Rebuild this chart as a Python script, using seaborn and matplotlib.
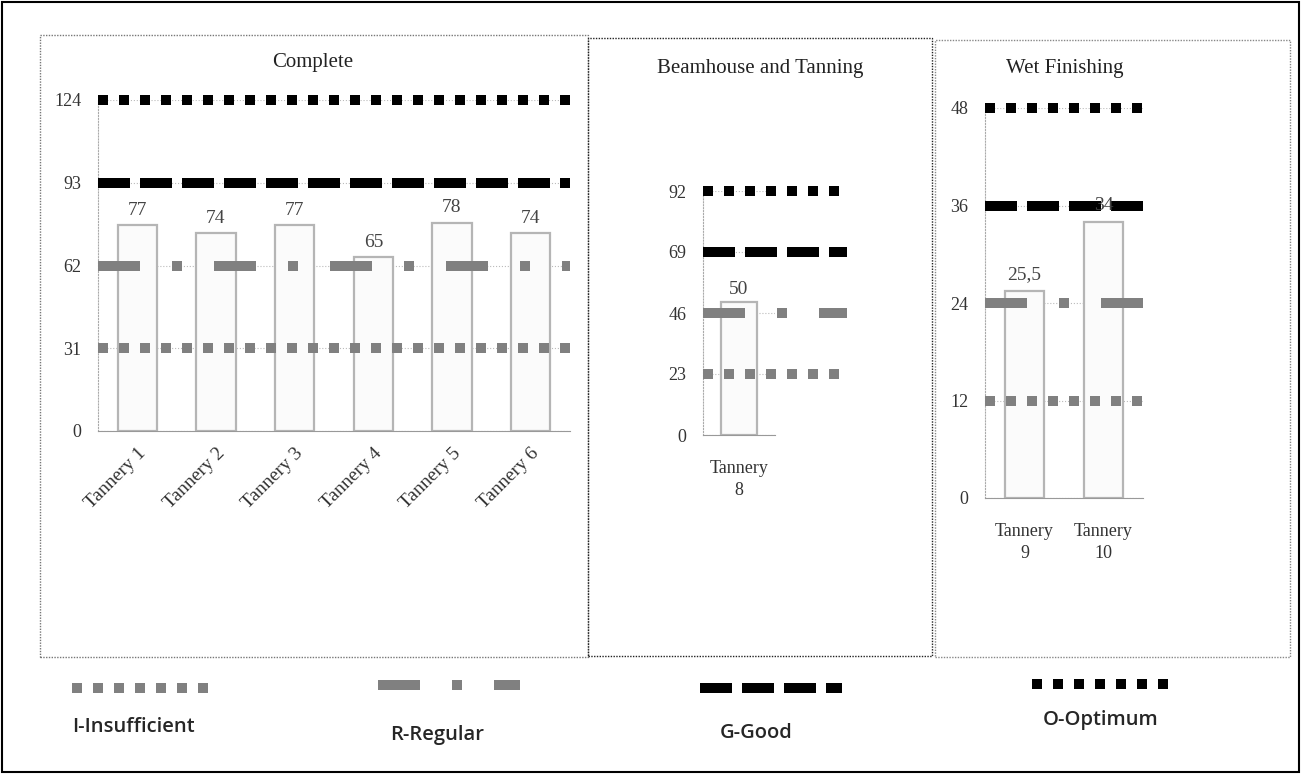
import matplotlib
matplotlib.use("Agg")
import matplotlib.pyplot as plt
from matplotlib.lines import Line2D
from matplotlib.patches import Rectangle
import pandas as pd
import seaborn as sns

# datos de cada panel
complete_names = ['Tannery 1', 'Tannery 2', 'Tannery 3', 'Tannery 4', 'Tannery 5', 'Tannery 6']
complete_vals = [77, 74, 77, 65, 78, 74]
complete_levels = [31, 62, 93, 124]

beam_names = ['Tannery\n8']
beam_vals = [50]
beam_levels = [23, 46, 69, 92]

wet_names = ['Tannery\n9', 'Tannery\n10']
wet_vals = [25.5, 34]
wet_levels = [12, 24, 36, 48]

level_names = ['I-Insufficient', 'R-Regular', 'G-Good', 'O-Optimum']

sns.set_style("white")
plt.rcParams['font.family'] = ['Liberation Serif', 'DejaVu Serif']

# estilos de las lineas de nivel (I, R, G, O), trazo de ~10 px
LW = 7.2
estilos = [
    dict(color='#808080', dashes=(1.0, 1.1)),
    dict(color='#808080', dashes=(4.2, 3.2, 1.0, 3.2)),
    dict(color='#000000', dashes=(3.2, 1.0)),
    dict(color='#000000', dashes=(1.0, 1.1)),
]

fig = plt.figure(figsize=(13.01, 7.74), dpi=100)

def fx(px):
    return px / 1301.0

def fy(py):
    return 1 - py / 774.0

# marco exterior y recuadros de los paneles
fig.patches.append(Rectangle((fx(2), fy(772)), fx(1297), 770 / 774.0, transform=fig.transFigure,
                             fill=False, edgecolor='black', linewidth=1.5))
for (x0, y0, x1, y1, col) in [(40, 35, 588, 657, '#777777'), (588, 38, 932, 656, '#222222'),
                              (935, 40, 1290, 657, '#888888')]:
    fig.patches.append(Rectangle((fx(x0), fy(y1)), fx(x1 - x0), (y1 - y0) / 774.0,
                                 transform=fig.transFigure, fill=False, edgecolor=col,
                                 linewidth=1, linestyle=(0, (1, 1))))


def panel(rect, names, vals, levels, title, title_xy, xmax_line, rot, fmt):
    ax = fig.add_axes(rect)
    df = pd.DataFrame({'tannery': names, 'score': vals})
    sns.barplot(data=df, x='tannery', y='score', ax=ax, color='#fbfbfb', saturation=1,
                width=0.5, edgecolor='#b5b5b5', linewidth=1.6, zorder=2)
    ax.set_ylim(0, levels[-1])
    ax.set_xlim(-0.5, len(names) - 0.5)
    ax.set_yticks([0] + levels)
    ax.set_yticklabels([str(v) for v in [0] + levels], fontsize=13, color='#333333')
    ax.yaxis.set_tick_params(pad=12, length=0)
    ax.grid(axis='y', color='#bbbbbb', linestyle=':', linewidth=0.8, zorder=0)
    ax.set_xlabel('')
    ax.set_ylabel('')
    for s in ['top', 'right']:
        ax.spines[s].set_visible(False)
    ax.spines['left'].set_color('#aaaaaa')
    ax.spines['left'].set_linestyle(':')
    ax.spines['bottom'].set_color('#999999')
    ax.set_xticks(range(len(names)))
    if rot:
        ax.tick_params(axis='x', length=0, pad=10)
        ax.set_xticklabels(names, rotation=45, ha='right', rotation_mode='anchor',
                           fontsize=14, color='#333333')
    else:
        ax.tick_params(axis='x', length=0, pad=18)
        ax.set_xticklabels(names, fontsize=13, color='#333333', linespacing=1.35)
    for i, lv in enumerate(levels):
        ln = ax.axhline(lv, xmin=0, xmax=xmax_line, linewidth=LW, color=estilos[i]['color'],
                        clip_on=False, zorder=3, solid_capstyle='butt')
        ln.set_dashes(estilos[i]['dashes'])
        ln.set_dash_capstyle('butt')
    for i, v in enumerate(vals):
        ax.text(i, v + levels[-1] * 0.02, fmt(v), ha='center', va='bottom', fontsize=14,
                color='#444444', zorder=4)
    fig.text(title_xy[0], title_xy[1], title, ha='center', va='center', fontsize=15,
             color='#222222')
    return ax


panel([fx(98), fy(431), fx(472), (431 - 100) / 774.0], complete_names, complete_vals,
      complete_levels, 'Complete', (fx(313), fy(62)), 1.0, True, lambda v: '%g' % v)
panel([fx(703), fy(435), fx(72), (435 - 191) / 774.0], beam_names, beam_vals,
      beam_levels, 'Beamhouse and Tanning', (fx(760), fy(68)), 2.0, False, lambda v: '%g' % v)
panel([fx(985), fy(498), fx(158), (498 - 108) / 774.0], wet_names, wet_vals,
      wet_levels, 'Wet Finishing', (fx(1065), fy(68)), 1.0, False,
      lambda v: ('%g' % v).replace('.', ','))

# leyenda inferior
muestras = [(72, 212, 688), (378, 520, 685), (700, 842, 688), (1032, 1170, 684)]
textos = [(72, 727), (390, 735), (720, 733), (1043, 720)]
for i in range(4):
    x0, x1, yy = muestras[i]
    ln = Line2D([fx(x0), fx(x1)], [fy(yy), fy(yy)], transform=fig.transFigure,
                linewidth=LW, color=estilos[i]['color'], solid_capstyle='butt')
    ln.set_dashes(estilos[i]['dashes'])
    ln.set_dash_capstyle('butt')
    fig.lines.append(ln)
    fig.text(fx(textos[i][0]), fy(textos[i][1]), level_names[i], ha='left', va='center',
             fontsize=14.5, fontweight='semibold', family=['Open Sans', 'DejaVu Sans'])

fig.savefig('out.png', dpi=100)
